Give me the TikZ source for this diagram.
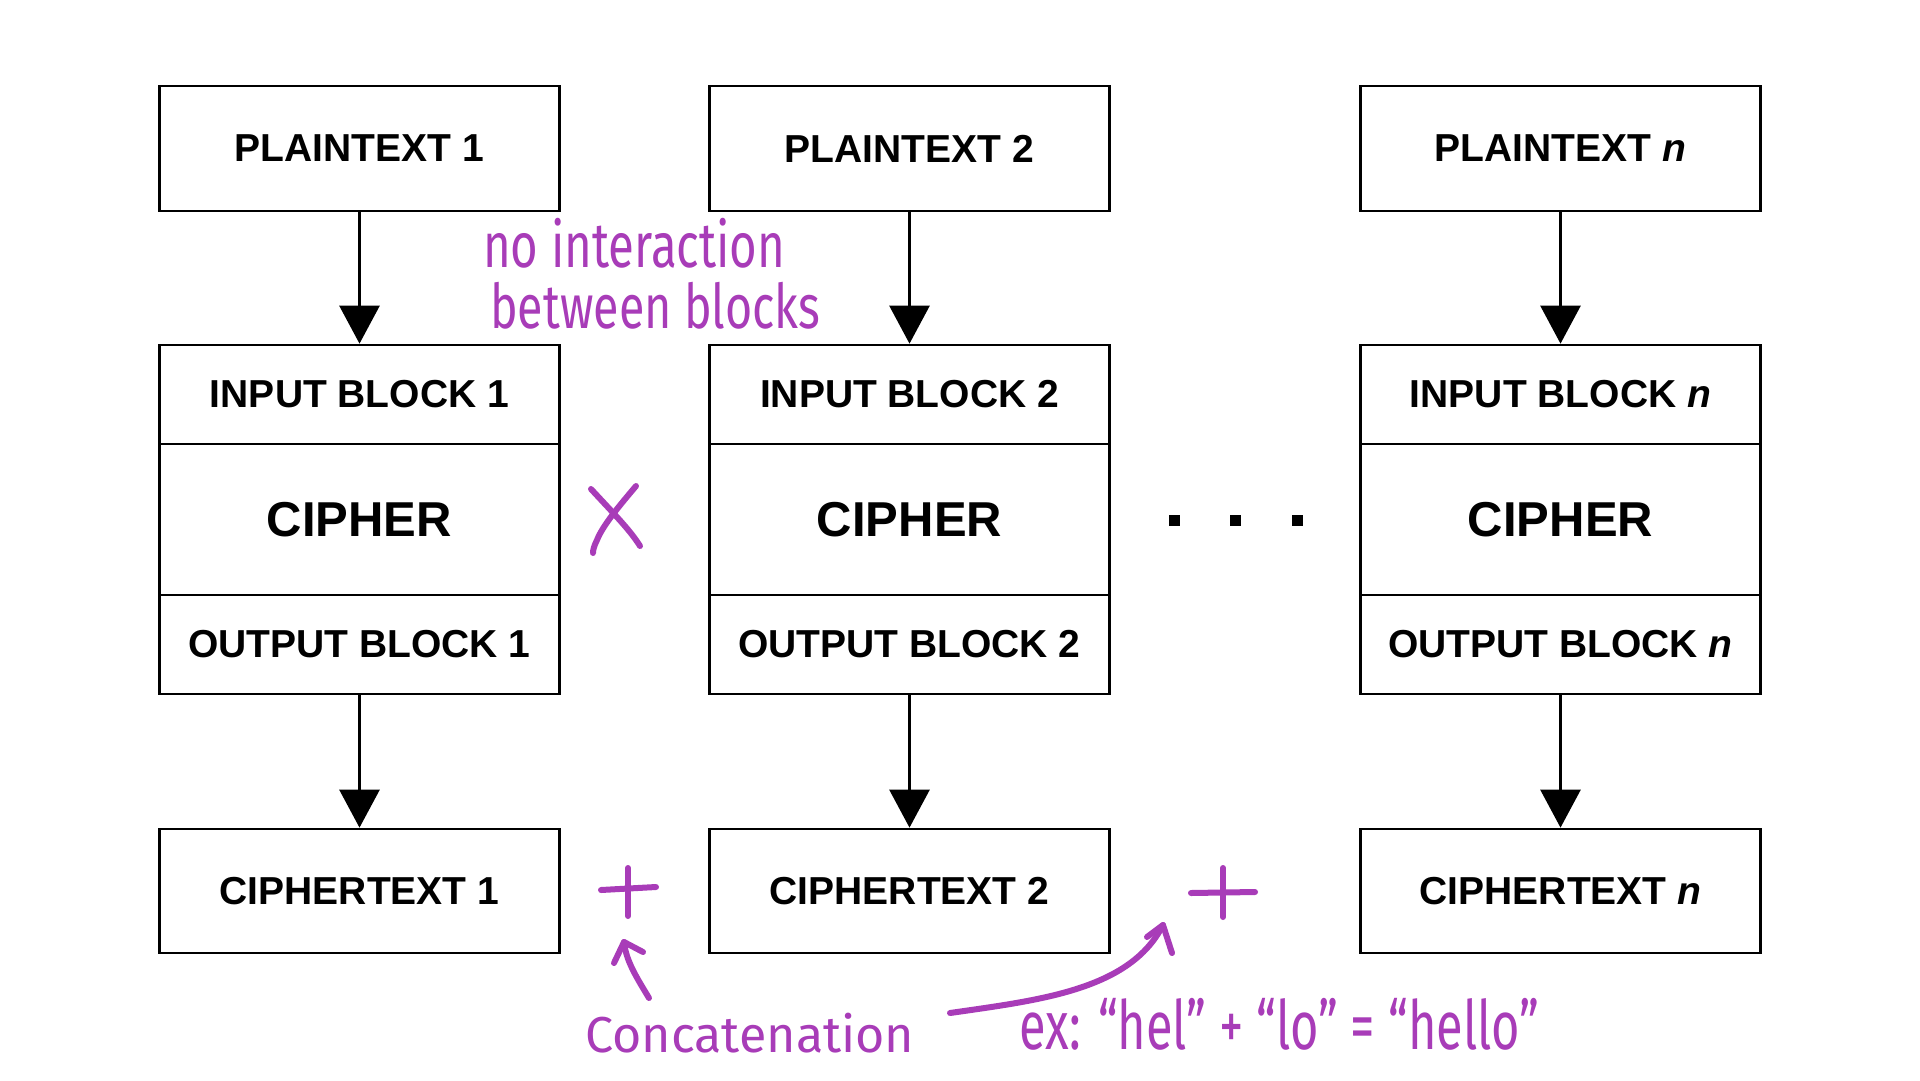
\documentclass[tikz,border=0pt]{standalone}
\usepackage{fontspec}
\setmainfont{Liberation Sans}
\newfontfamily\handfont{Fira Sans}
\usetikzlibrary{arrows.meta}
\definecolor{pen}{RGB}{168,60,184}
\begin{document}
\begin{tikzpicture}[x=1pt,y=-1pt,
  box/.style={draw, line width=2.7pt, minimum width=400pt, inner sep=0pt,
    font=\fontsize{39}{44}\selectfont\bfseries},
  bigbox/.style={box, font=\fontsize{49}{54}\selectfont\bfseries},
  flow/.style={line width=2.7pt, -{Triangle[width=40pt,length=38pt]}},
  penline/.style={draw=pen, line width=6pt, line cap=round, line join=round},
  hand/.style={text=pen, inner sep=0pt, font=\handfont}
]
\useasboundingbox[fill=white] (0,0) rectangle (1920,1080);

% column 1
\node[box, minimum height=125pt] (p1) at (359.5,148.5) {PLAINTEXT 1};
\node[box, minimum height=99pt] (i1) at (359.5,394.5) {INPUT BLOCK 1};
\node[bigbox, minimum height=151pt] (c1) at (359.5,519.5) {CIPHER};
\node[box, minimum height=99pt] (o1) at (359.5,644.5) {OUTPUT BLOCK 1};
\node[box, minimum height=124pt] (t1) at (359.5,891) {CIPHERTEXT 1};
% column 2
\node[box, minimum height=125pt] (p2) at (909.5,148.5) {PLAINTEXT 2};
\node[box, minimum height=99pt] (i2) at (909.5,394.5) {INPUT BLOCK 2};
\node[bigbox, minimum height=151pt] (c2) at (909.5,519.5) {CIPHER};
\node[box, minimum height=99pt] (o2) at (909.5,644.5) {OUTPUT BLOCK 2};
\node[box, minimum height=124pt] (t2) at (909.5,891) {CIPHERTEXT 2};
% column n
\node[box, minimum height=125pt] (p3) at (1560.5,148.5) {PLAINTEXT \textit{n}};
\node[box, minimum height=99pt] (i3) at (1560.5,394.5) {INPUT BLOCK \textit{n}};
\node[bigbox, minimum height=151pt] (c3) at (1560.5,519.5) {CIPHER};
\node[box, minimum height=99pt] (o3) at (1560.5,644.5) {OUTPUT BLOCK \textit{n}};
\node[box, minimum height=124pt] (t3) at (1560.5,891) {CIPHERTEXT \textit{n}};

\foreach \k in {1,2,3} {
  \draw[flow] (p\k.south) -- (i\k.north);
  \draw[flow] (o\k.south) -- (t\k.north);
}

% ellipsis dots
\foreach \x in {1174,1235,1297} {
  \fill (\x-5.5,514.5) rectangle (\x+5.5,525.5);
}

% handwritten notes
\node[hand, anchor=north west] (note1) at (483,218) {\resizebox*{302pt}{50pt}{no interaction}};
\node[hand, anchor=north west] (note2) at (490,282) {\resizebox*{330pt}{47pt}{between blocks}};
\node[hand, anchor=north west] (conc) at (585,1013) {\resizebox*{329pt}{40pt}{Concatenation}};
\node[hand, anchor=north west] (ex) at (1019,998) {\resizebox*{520pt}{52pt}{ex: “hel” + “lo” = “hello”}};

% X mark
\draw[penline] (591,489) .. controls (615,515) and (630,530) .. (640,546);
\draw[penline] (636,486) .. controls (620,505) and (603,525) .. (597,540) .. controls (594,546) and (593,550) .. (593,553);

% plus signs
\draw[penline] (628,868) -- (628,916);
\draw[penline] (601,890) -- (656,887);
\draw[penline] (1223,868) -- (1223,917);
\draw[penline] (1191,893) -- (1255,892);

% concatenation arrow
\draw[penline] (649,998) .. controls (635,975) and (626,960) .. (624,942);
\draw[penline] (614,963) -- (624,942) -- (643,952);

% curved arrow to second plus
\draw[penline] (950,1013) .. controls (1040,1000) and (1130,990) .. (1163,925);
\draw[penline] (1147,937) -- (1163,925) -- (1172,953);
\end{tikzpicture}
\end{document}
